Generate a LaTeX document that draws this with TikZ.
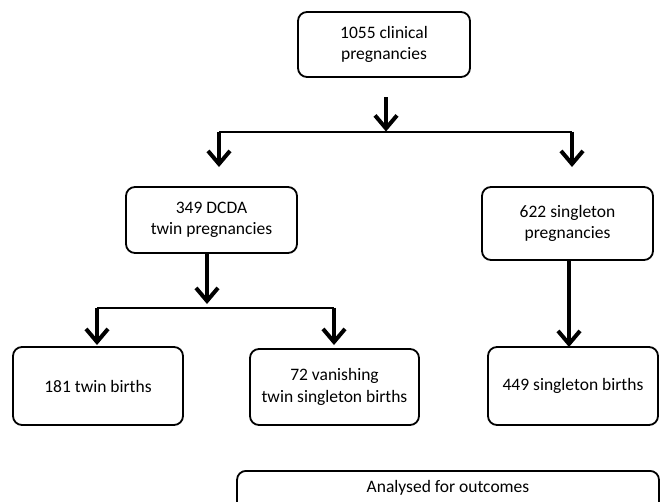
\documentclass[tikz,border=0pt]{standalone}
\usepackage{fontspec}
\setmainfont{Carlito}
\usetikzlibrary{arrows.meta}
\begin{document}
\begin{tikzpicture}[x=1pt,y=-1pt,
  box/.style={draw, line width=1.8pt, rounded corners=9pt, align=center, inner sep=0pt,
    font=\fontsize{17.5}{21.5}\selectfont},
  arr/.style={line width=3.8pt, -{Straight Barb[length=13pt,width=22pt,line width=4pt]}},
  hline/.style={line width=2pt}]
\useasboundingbox (0,0) rectangle (661,501);
\clip (0,0) rectangle (661,501);
\node[box, minimum width=172pt, minimum height=65pt] (top) at (384,44.5) {1055 clinical\\pregnancies};
\node[box, minimum width=171pt, minimum height=66pt] (twin) at (211.5,220) {349 DCDA\\twin pregnancies};
\node[box, minimum width=171pt, minimum height=73pt] (sing) at (567.5,223.5) {622 singleton\\pregnancies};
\node[box, minimum width=170pt, minimum height=78pt] (tb) at (98,386) {181 twin births};
\node[box, minimum width=169pt, minimum height=76pt] (vt) at (334.5,387) {72 vanishing\\twin singleton births};
\node[box, minimum width=170pt, minimum height=78pt] (sb) at (573,386) {449 singleton births};
\node[box, minimum width=422pt, minimum height=70pt, anchor=north] (an) at (448,470) {};
\node[font=\fontsize{17.5}{21.5}\selectfont, anchor=base] (ant) at (448,492) {Analysed for outcomes};
% top split
\coordinate (t0) at (386,97);
\coordinate (j1) at (386,131.5);
\coordinate (jl) at (219,131.5);
\coordinate (jr) at (572,131.5);
\draw[arr] (t0) -- (j1);
\draw[hline] (jl) -- (jr);
\draw[arr] (jl) -- (219,167);
\draw[arr] (jr) -- (572,167);
% twin split
\coordinate (j2) at (207,307.5);
\coordinate (j2l) at (97,307.5);
\coordinate (j2r) at (334,307.5);
\draw[arr] (twin.south -| j2) -- (207,304);
\draw[hline] (j2l) -- (j2r);
\draw[arr] (j2l) -- (97,345);
\draw[arr] (j2r) -- (334,345);
% singleton
\draw[arr] (sing.south -| 569,0) -- (569,347);
\end{tikzpicture}
\end{document}
